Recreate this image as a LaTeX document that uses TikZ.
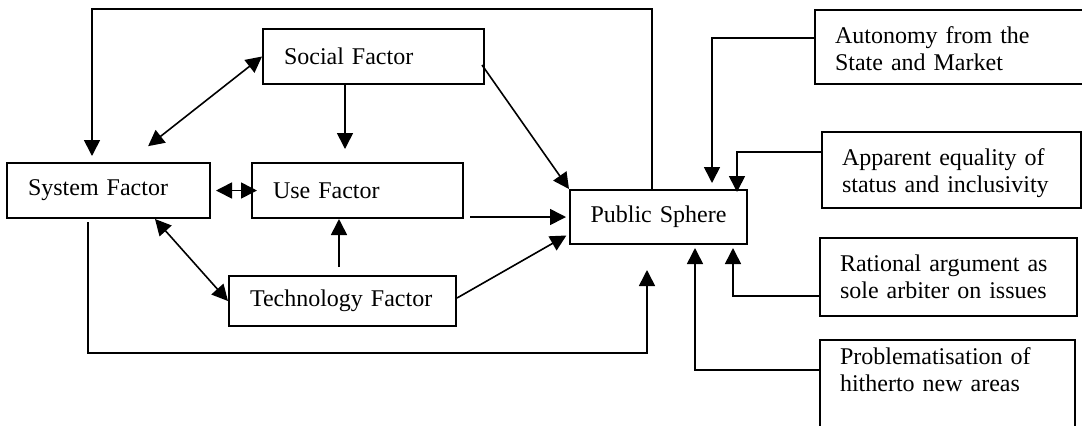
\documentclass[tikz,border=0pt]{standalone}
\usepackage{fontspec}
\setmainfont{Liberation Serif}
\usepackage{tikz}
\usetikzlibrary{arrows.meta, calc}
\tikzset{
  factor/.style={draw, line width=1pt, align=left, inner xsep=10.5pt, inner ysep=0pt,
                 minimum height=27.5pt, font=\fontsize{12}{13.5}\selectfont},
  feature/.style={draw, line width=1pt, align=left, anchor=north west, inner xsep=10pt,
                  inner ysep=0pt, text height=16.5pt, font=\fontsize{12}{13.5}\selectfont},
  link/.style={-{Triangle[length=8pt, width=8pt]}, line width=0.8pt},
  twoway/.style={{Triangle[length=8pt, width=8pt]}-{Triangle[length=8pt, width=8pt]}, line width=0.8pt},
}

\begin{document}
\begin{tikzpicture}[x=0.5pt, y=-0.5pt]
\useasboundingbox (0,0) rectangle (1082,425);

% factors on the left
\node[factor, text width=89.5pt] (social) at (373.5,56.5) {Social Factor};
\node[factor, text width=80.5pt] (system) at (108.5,190.5) {System Factor};
\node[factor, text width=84.5pt] (use) at (357.5,190.5) {Use Factor};
\node[factor, text width=92.5pt, minimum height=25pt] (tech) at (342.5,301) {Technology Factor};
\node[factor, text width=72pt, inner xsep=8.25pt, align=center, minimum height=27pt] (public) at (658.5,217) {Public Sphere};

% features on the right
\node[feature, text width=118pt, text depth=20.5pt] (autonomy) at (814,9) {Autonomy from the\\State and Market};
\node[feature, text width=109.5pt, text depth=21.5pt] (equality) at (821,131) {Apparent equality of\\status and inclusivity};
\node[feature, text width=108.5pt, text depth=22.5pt] (rational) at (819,237) {Rational argument as\\sole arbiter on issues};
\node[feature, text width=107.5pt, text height=12pt, text depth=40pt] (problem) at (819,339) {Problematisation of\\hitherto new areas};

\coordinate (ceil) at (0,9);
\coordinate (floor) at (0,353);

% links between the factors
\draw[link, shorten >=3pt] ([xshift=-3.25pt]public.north) -- ([xshift=-3.25pt]public.north |- ceil)
  -| ([xshift=-8.25pt]system.north);
\draw[twoway, shorten >=12.8pt] (social.west) -- ([xshift=9.75pt]system.north);
\draw[link, shorten >=6.5pt] ([xshift=-14.25pt]social.south) -- ([xshift=-6.25pt]use.north);
\draw[twoway, shorten <=2.5pt, shorten >=-3pt] (system.east) -- (use.west);
\draw[twoway] ([xshift=23.25pt]system.south) -- (tech.west);
\draw[link, shorten <=4pt] ([xshift=-1.75pt]tech.north) -- ([xshift=-9.25pt]use.south);
\draw[link] ([xshift=-1.5pt, yshift=-4.25pt]social.east) -- (public.north west);
\draw[link, shorten <=3pt, shorten >=1.5pt] (use.east |- public.west) -- (public.west);
\draw[link, shorten >=1.5pt] ([yshift=1.5pt]tech.east) -- ([yshift=-8.5pt]public.west);
\draw[link, shorten <=1.5pt, shorten >=12.5pt] ([xshift=-10.25pt]system.south)
  -- ([xshift=-10.25pt]system.south |- floor) -| ([xshift=-5.75pt]public.south);

% features feeding the public sphere
\draw[link, shorten >=3pt] ([yshift=4.5pt]autonomy.west) -| ([xshift=26.75pt]public.north);
\draw[link, shorten >=-1.5pt] ([yshift=9pt]equality.west) -| ([xshift=39.25pt]public.north);
\draw[link, shorten >=1.5pt] ([yshift=-9.5pt]rational.west) -| ([xshift=37.25pt]public.south);
\draw[link, shorten >=1.5pt] ([yshift=11pt]problem.west) -| ([xshift=18.25pt]public.south);
\end{tikzpicture}
\end{document}
